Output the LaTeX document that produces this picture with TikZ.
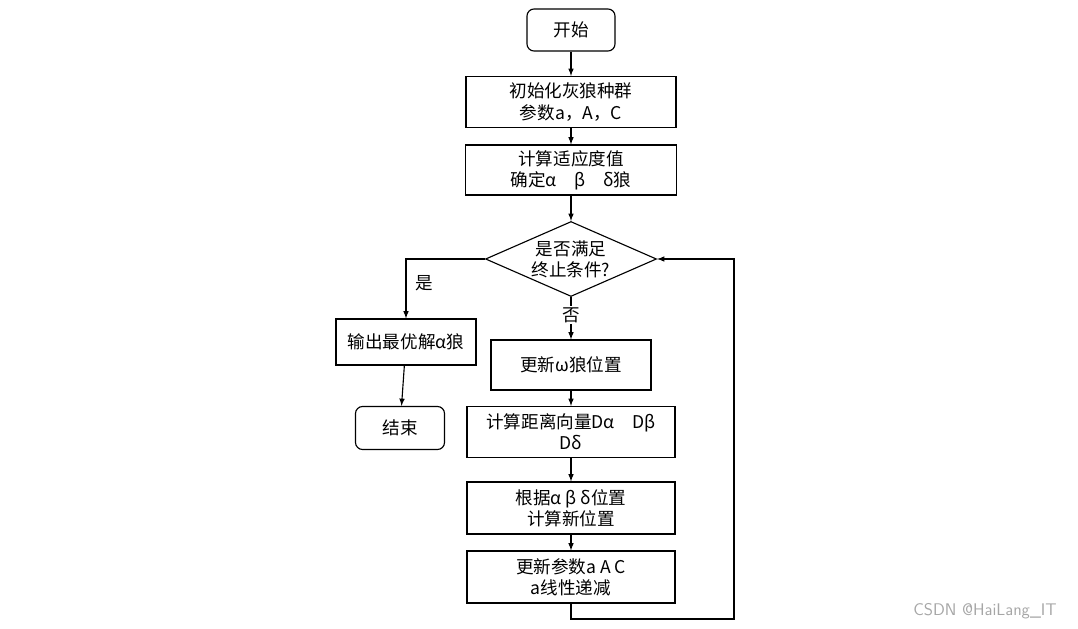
\documentclass[tikz,border=0pt]{standalone}
\usepackage{fontspec}
\setmainfont{Liberation Serif}
\newfontfamily\cjk{Noto Sans CJK SC}
\usetikzlibrary{shapes.geometric}
\begin{document}
\begin{tikzpicture}[x=0.025cm,y=-0.025cm,font=\cjk\fontsize{12.5}{15}\selectfont]
			\tikzset{proc/.style = {draw, thick, align=center, inner sep=0pt}}
			\tikzset{term/.style = {proc, rounded corners=5pt}}
			\tikzset{edge/.style = {->,> = latex, thick}}
			\useasboundingbox (0,0) rectangle (1078,629);
			% boxes
			\node[term, minimum width=88*0.025cm, minimum height=42*0.025cm] (start) at (571,30) {开始};
			\node[proc, minimum width=210*0.025cm, minimum height=51*0.025cm] (init) at (571,102) {初始化灰狼种群\\参数a，A，C};
			\node[proc, minimum width=211*0.025cm, minimum height=50*0.025cm] (fit) at (571,170) {计算适应度值\\确定α\quad β\quad δ狼};
			\node[draw, thick, diamond, aspect=2.28, inner sep=0pt, minimum width=171*0.025cm, minimum height=75*0.025cm, align=center] (cond) at (571,259) {是否满足\\终止条件?};
			\node[proc, minimum width=140*0.025cm, minimum height=46*0.025cm] (out) at (406,342) {输出最优解α狼};
			\node[term, minimum width=89*0.025cm, minimum height=43*0.025cm] (end) at (400,428) {结束};
			\node[proc, minimum width=160*0.025cm, minimum height=50*0.025cm] (omega) at (571,365) {更新ω狼位置};
			\node[proc, minimum width=208*0.025cm, minimum height=51*0.025cm] (dist) at (571,432) {计算距离向量Dα\quad Dβ\\Dδ};
			\node[proc, minimum width=208*0.025cm, minimum height=52*0.025cm] (pos) at (571,508) {根据α β δ位置\\计算新位置};
			\node[proc, minimum width=208*0.025cm, minimum height=52*0.025cm] (param) at (571,577) {更新参数a A C\\a线性递减};
			\coordinate (loopA) at (734,619);
			% connectors
			\draw[edge] (start) -- (init);
			\draw[edge] (init) -- (fit);
			\draw[edge] (fit) -- (cond);
			\draw[edge] (cond.west) -| node[pos=0.7, right=3pt] {是} (out.north);
			\draw[edge] (out) -- (end);
			\draw[edge] (cond.south) -- node[pos=0.43, fill=white, inner sep=1pt] {否} (omega);
			\draw[edge] (omega) -- (dist);
			\draw[edge] (dist) -- (pos);
			\draw[edge] (pos) -- (param);
			\draw[edge] (param.south) |- (loopA) |- (cond.east);
			\node[text=gray!70, font=\sffamily\fontsize{12}{14}\selectfont] (mark) at (985,611) {CSDN @HaiLang\_IT};
		\end{tikzpicture}
\end{document}
